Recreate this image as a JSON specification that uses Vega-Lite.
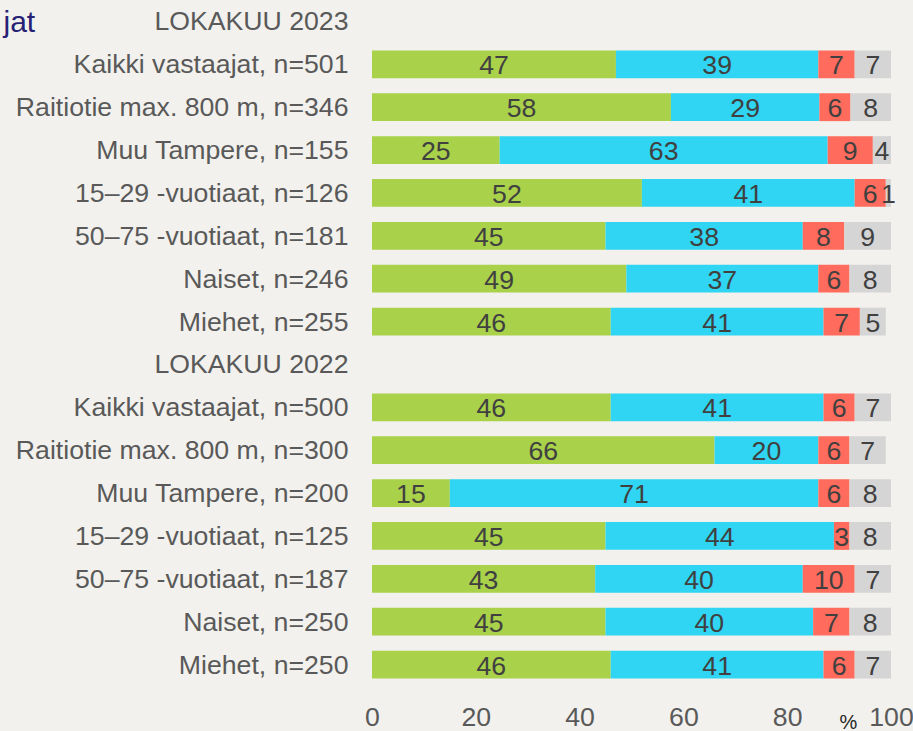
{
  "$schema": "https://vega.github.io/schema/vega-lite/v6.json",
  "autosize": {"type": "none"},
  "width": 519,
  "height": 686,
  "padding": {"left": 372, "top": 0, "right": 22, "bottom": 45},
  "background": "#f2f1ed",
  "config": {
    "view": {"stroke": null},
    "font": "Liberation Sans"
  },
  "data": {
    "values": [
      {"g": "Kaikki vastaajat, n=501", "k": "A", "v": 47},
      {"g": "Kaikki vastaajat, n=501", "k": "B", "v": 39},
      {"g": "Kaikki vastaajat, n=501", "k": "C", "v": 7},
      {"g": "Kaikki vastaajat, n=501", "k": "D", "v": 7},
      {"g": "Raitiotie max. 800 m, n=346", "k": "A", "v": 57.6},
      {"g": "Raitiotie max. 800 m, n=346", "k": "B", "v": 28.6},
      {"g": "Raitiotie max. 800 m, n=346", "k": "C", "v": 6.0},
      {"g": "Raitiotie max. 800 m, n=346", "k": "D", "v": 7.8},
      {"g": "Muu Tampere, n=155", "k": "A", "v": 24.6},
      {"g": "Muu Tampere, n=155", "k": "B", "v": 63.2},
      {"g": "Muu Tampere, n=155", "k": "C", "v": 8.7},
      {"g": "Muu Tampere, n=155", "k": "D", "v": 3.5},
      {"g": "15–29 -vuotiaat, n=126", "k": "A", "v": 52},
      {"g": "15–29 -vuotiaat, n=126", "k": "B", "v": 41},
      {"g": "15–29 -vuotiaat, n=126", "k": "C", "v": 6},
      {"g": "15–29 -vuotiaat, n=126", "k": "D", "v": 1},
      {"g": "50–75 -vuotiaat, n=181", "k": "A", "v": 45},
      {"g": "50–75 -vuotiaat, n=181", "k": "B", "v": 38},
      {"g": "50–75 -vuotiaat, n=181", "k": "C", "v": 8},
      {"g": "50–75 -vuotiaat, n=181", "k": "D", "v": 9},
      {"g": "Naiset, n=246", "k": "A", "v": 49},
      {"g": "Naiset, n=246", "k": "B", "v": 37},
      {"g": "Naiset, n=246", "k": "C", "v": 6},
      {"g": "Naiset, n=246", "k": "D", "v": 8},
      {"g": "Miehet, n=255", "k": "A", "v": 46},
      {"g": "Miehet, n=255", "k": "B", "v": 41},
      {"g": "Miehet, n=255", "k": "C", "v": 7},
      {"g": "Miehet, n=255", "k": "D", "v": 5},
      {"g": "Kaikki vastaajat, n=500", "k": "A", "v": 46},
      {"g": "Kaikki vastaajat, n=500", "k": "B", "v": 41},
      {"g": "Kaikki vastaajat, n=500", "k": "C", "v": 6},
      {"g": "Kaikki vastaajat, n=500", "k": "D", "v": 7},
      {"g": "Raitiotie max. 800 m, n=300", "k": "A", "v": 66},
      {"g": "Raitiotie max. 800 m, n=300", "k": "B", "v": 20},
      {"g": "Raitiotie max. 800 m, n=300", "k": "C", "v": 6},
      {"g": "Raitiotie max. 800 m, n=300", "k": "D", "v": 7},
      {"g": "Muu Tampere, n=200", "k": "A", "v": 15},
      {"g": "Muu Tampere, n=200", "k": "B", "v": 71},
      {"g": "Muu Tampere, n=200", "k": "C", "v": 6},
      {"g": "Muu Tampere, n=200", "k": "D", "v": 8},
      {"g": "15–29 -vuotiaat, n=125", "k": "A", "v": 45},
      {"g": "15–29 -vuotiaat, n=125", "k": "B", "v": 44},
      {"g": "15–29 -vuotiaat, n=125", "k": "C", "v": 3},
      {"g": "15–29 -vuotiaat, n=125", "k": "D", "v": 8},
      {"g": "50–75 -vuotiaat, n=187", "k": "A", "v": 43},
      {"g": "50–75 -vuotiaat, n=187", "k": "B", "v": 40},
      {"g": "50–75 -vuotiaat, n=187", "k": "C", "v": 10},
      {"g": "50–75 -vuotiaat, n=187", "k": "D", "v": 7},
      {"g": "Naiset, n=250", "k": "A", "v": 45},
      {"g": "Naiset, n=250", "k": "B", "v": 40},
      {"g": "Naiset, n=250", "k": "C", "v": 7},
      {"g": "Naiset, n=250", "k": "D", "v": 8},
      {"g": "Miehet, n=250", "k": "A", "v": 46},
      {"g": "Miehet, n=250", "k": "B", "v": 41},
      {"g": "Miehet, n=250", "k": "C", "v": 6},
      {"g": "Miehet, n=250", "k": "D", "v": 7}
    ]
  },
  "encoding": {
    "y": {
      "field": "g",
      "type": "nominal",
      "scale": {
        "domain": [
          "LOKAKUU 2023",
          "Kaikki vastaajat, n=501",
          "Raitiotie max. 800 m, n=346",
          "Muu Tampere, n=155",
          "15–29 -vuotiaat, n=126",
          "50–75 -vuotiaat, n=181",
          "Naiset, n=246",
          "Miehet, n=255",
          "LOKAKUU 2022",
          "Kaikki vastaajat, n=500",
          "Raitiotie max. 800 m, n=300",
          "Muu Tampere, n=200",
          "15–29 -vuotiaat, n=125",
          "50–75 -vuotiaat, n=187",
          "Naiset, n=250",
          "Miehet, n=250"
        ],
        "paddingInner": 0.35,
        "paddingOuter": 0.175
      },
      "axis": {
        "title": "jat",
        "titleAngle": 0,
        "titleX": -369,
        "titleY": 31,
        "titleAlign": "left",
        "titleBaseline": "alphabetic",
        "titleFontSize": 30,
        "titleFontWeight": "normal",
        "titleFont": "Liberation Sans",
        "titleColor": "#262174",
        "ticks": false,
        "domain": false,
        "labelPadding": 24,
        "labelOffset": 1,
        "labelFontSize": 26.67,
        "labelColor": "#595959",
        "labelFont": "Liberation Sans",
        "labelLimit": 500
      }
    },
    "order": {"field": "k", "type": "nominal", "sort": "ascending"}
  },
  "layer": [
    {
      "mark": {"type": "bar"},
      "encoding": {
        "x": {
          "field": "v",
          "type": "quantitative",
          "stack": "zero",
          "scale": {"domain": [0, 100], "nice": false},
          "axis": {
            "title": "%",
            "titleX": 476,
            "titleY": 36,
            "titleBaseline": "middle",
            "titleAlign": "center",
            "titleFontSize": 20,
            "titleFontWeight": "normal",
            "titleColor": "#262626",
            "titleFont": "Liberation Sans",
            "values": [0, 20, 40, 60, 80, 100],
            "grid": false,
            "ticks": false,
            "domain": false,
            "labelPadding": 18,
            "labelFontSize": 26.67,
            "labelColor": "#595959",
            "labelFont": "Liberation Sans",
            "labelFlush": false
          }
        },
        "color": {
          "field": "k",
          "type": "nominal",
          "scale": {"domain": ["A", "B", "C", "D"], "range": ["#a9d14a", "#2fd5f2", "#ff6b5c", "#d5d5d5"]},
          "legend": null
        }
      }
    },
    {
      "mark": {"type": "text", "fontSize": 26.67, "color": "#404040", "font": "Liberation Sans", "baseline": "middle", "align": "center", "dy": 2},
      "encoding": {
        "x": {"field": "v", "type": "quantitative", "stack": "zero", "bandPosition": 0.5},
        "detail": {"field": "k", "type": "nominal"},
        "text": {"field": "v", "type": "quantitative", "format": ".0f"}
      }
    }
  ]
}
